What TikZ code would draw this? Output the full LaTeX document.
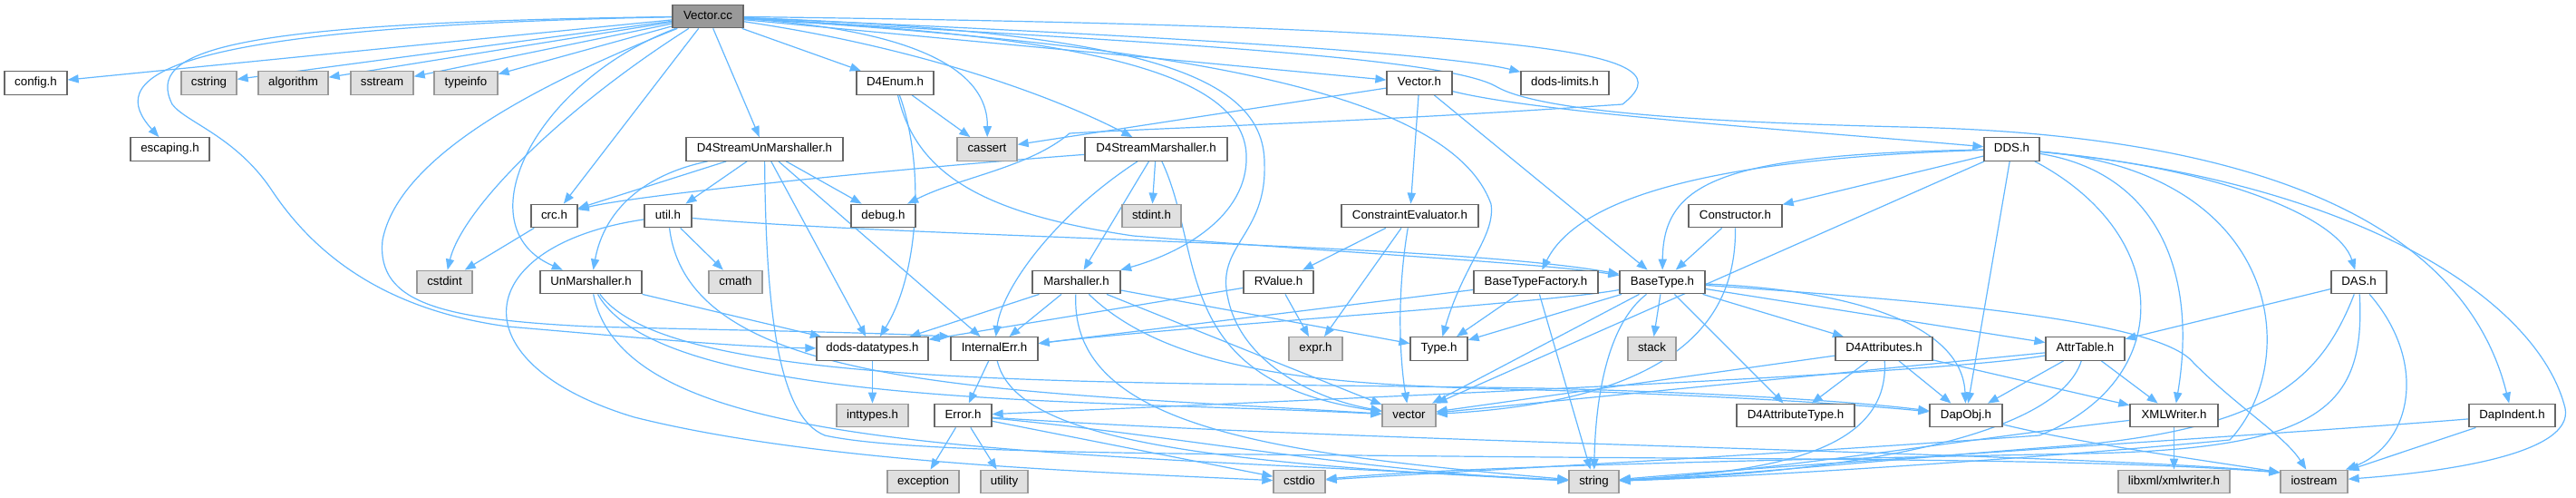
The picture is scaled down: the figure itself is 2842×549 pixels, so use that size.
\documentclass[tikz,border=0pt]{standalone}
\usepackage{fontspec}
\setmainfont{Liberation Sans}
\usepackage{tikz}
\usetikzlibrary{arrows.meta,backgrounds}
\definecolor{dxedge}{HTML}{63B8FF}
\definecolor{dxframe}{HTML}{666666}
\definecolor{dxsysframe}{HTML}{999999}
\definecolor{dxsysfill}{HTML}{E0E0E0}
\definecolor{dxcur}{HTML}{999999}

\begin{document}
\begin{tikzpicture}[x=0.5pt,y=-0.5pt,font=\fontsize{6.65}{8}\selectfont,
  hdr/.style={draw=dxframe,fill=white,line width=0.65pt,inner sep=0pt,minimum height=12.75pt,text height=4.9pt,text depth=1.4pt},
  sys/.style={hdr,draw=dxsysframe,fill=dxsysfill},
  cur/.style={hdr,fill=dxcur},
  inc/.style={draw=dxedge,line width=0.6pt,-{Triangle[length=6pt,width=4.6pt]}}]
\useasboundingbox (0,0) rectangle (2842,549);
\node[cur,minimum width=39pt] (vcc) at (781,18) {Vector.cc};
\node[hdr,minimum width=34.5pt] (config) at (39.5,91.5) {config.h};
\node[sys,minimum width=30.5pt] (cstring) at (230.5,91.5) {cstring};
\node[sys,minimum width=38.5pt] (algorithm) at (323.5,91.5) {algorithm};
\node[sys,minimum width=34.5pt] (sstream) at (421.5,91.5) {sstream};
\node[sys,minimum width=35pt] (typeinfo) at (514,91.5) {typeinfo};
\node[hdr,minimum width=42.5pt] (d4enum) at (987.5,91.5) {D4Enum.h};
\node[hdr,minimum width=36pt] (vectorh) at (1566,91.5) {Vector.h};
\node[hdr,minimum width=48.5pt] (limits) at (1726.5,91.5) {dods-limits.h};
\node[hdr,minimum width=43.5pt] (escaping) at (187.5,164.5) {escaping.h};
\node[hdr,minimum width=86.5pt] (d4sum) at (843.5,164.5) {D4StreamUnMarshaller.h};
\node[sys,minimum width=33pt] (cassert) at (1089,164.5) {cassert};
\node[hdr,minimum width=78.5pt] (d4sm) at (1275.5,164.5) {D4StreamMarshaller.h};
\node[hdr,minimum width=30.5pt] (dds) at (2219.5,164.5) {DDS.h};
\node[hdr,minimum width=25.5pt] (crc) at (611.5,238) {crc.h};
\node[hdr,minimum width=26pt] (util) at (737,238) {util.h};
\node[hdr,minimum width=35.5pt] (debug) at (974.5,238) {debug.h};
\node[sys,minimum width=32.5pt] (stdint) at (1270.5,238) {stdint.h};
\node[hdr,minimum width=75.5pt] (ceval) at (1555.5,238) {ConstraintEvaluator.h};
\node[hdr,minimum width=51.5pt] (constructor) at (1914.5,238) {Constructor.h};
\node[sys,minimum width=30.5pt] (cstdint) at (490.5,311) {cstdint};
\node[hdr,minimum width=56pt] (unmarsh) at (652,311) {UnMarshaller.h};
\node[sys,minimum width=29.5pt] (cmath) at (811.5,311) {cmath};
\node[hdr,minimum width=48.5pt] (marsh) at (1187.5,311) {Marshaller.h};
\node[hdr,minimum width=38.5pt] (rvalue) at (1410.5,311) {RValue.h};
\node[hdr,minimum width=68.5pt] (btfactory) at (1694.5,311) {BaseTypeFactory.h};
\node[hdr,minimum width=47pt] (basetype) at (1834,311) {BaseType.h};
\node[hdr,minimum width=30.5pt] (das) at (2602.5,311) {DAS.h};
\node[hdr,minimum width=61.5pt] (datatypes) at (962.5,384.5) {dods-datatypes.h};
\node[hdr,minimum width=48pt] (internalerr) at (1097,384.5) {InternalErr.h};
\node[sys,minimum width=29.5pt] (expr) at (1451.5,384.5) {expr.h};
\node[hdr,minimum width=31.5pt] (typeh) at (1587.5,384.5) {Type.h};
\node[sys,minimum width=26.5pt] (stack) at (1822.5,384.5) {stack};
\node[hdr,minimum width=53.5pt] (d4attrs) at (2078.5,384.5) {D4Attributes.h};
\node[hdr,minimum width=43.5pt] (attrtable) at (2300.5,384.5) {AttrTable.h};
\node[sys,minimum width=39.5pt] (inttypes) at (962.5,458) {inttypes.h};
\node[hdr,minimum width=31.5pt] (error) at (1062.5,458) {Error.h};
\node[sys,minimum width=29.5pt] (vec) at (1554.5,458) {vector};
\node[hdr,minimum width=65pt] (d4attrtype) at (1981,458) {D4AttributeType.h};
\node[hdr,minimum width=40pt] (dapobj) at (2169,458) {DapObj.h};
\node[hdr,minimum width=48.5pt] (xmlwriter) at (2398.5,458) {XMLWriter.h};
\node[hdr,minimum width=47.5pt] (dapindent) at (2771.5,458) {DapIndent.h};
\node[sys,minimum width=39.5pt] (exception) at (1018.5,531) {exception};
\node[sys,minimum width=26pt] (utility) at (1108,531) {utility};
\node[sys,minimum width=28.5pt] (cstdio) at (1433.5,531) {cstdio};
\node[sys,minimum width=27.5pt] (string) at (1758.5,531) {string};
\node[sys,minimum width=61.5pt] (libxml) at (2398.5,531) {libxml/xmlwriter.h};
\node[sys,minimum width=37pt] (iostream) at (2553,531) {iostream};
\begin{pgfonlayer}{background}
\fill[white] (0,0) rectangle (2842,549);
% Vector.cc
\draw[inc] (vcc) -- (config);
\draw[inc] (vcc) -- (cstring);
\draw[inc] (vcc) -- (algorithm);
\draw[inc] (vcc) -- (sstream);
\draw[inc] (vcc) -- (typeinfo);
\draw[inc] (vcc) -- (crc);
\draw[inc] (vcc) -- (d4sum);
\draw[inc] (vcc) -- (d4enum);
\draw[inc] (vcc) -- (vectorh);
\draw[inc] (vcc) .. controls (150,30) and (120,90) .. (escaping);
\draw[inc] (vcc) .. controls (250,25) and (160,55) .. (190,115) .. controls (205,135) and (260,150) .. (300,210)
  .. controls (360,300) and (450,345) .. (560,360) .. controls (700,372) and (820,383) .. (datatypes);
\draw[inc] (vcc) .. controls (600,90) and (440,170) .. (422,265) .. controls (415,335) and (490,352) .. (650,360)
  .. controls (800,364) and (950,366) .. (internalerr.north west);
\draw[inc] (vcc) .. controls (620,120) and (510,230) .. (cstdint);
\draw[inc] (vcc) .. controls (590,90) and (510,250) .. (unmarsh);
\draw[inc] (vcc) .. controls (1040,35) and (1090,90) .. (cassert);
\draw[inc] (vcc) .. controls (1000,50) and (1150,100) .. (d4sm);
\draw[inc] (vcc) .. controls (1200,40) and (1370,80) .. (1375,170) .. controls (1378,240) and (1300,280) .. (marsh);
\draw[inc] (vcc) .. controls (1250,35) and (1395,80) .. (1395,180) .. controls (1398,260) and (1340,270) .. (1355,330)
  .. controls (1370,400) and (1450,440) .. (vec);
\draw[inc] (vcc) .. controls (1300,50) and (1600,100) .. (1645,225) .. controls (1650,260) and (1615,290) .. (typeh);
\draw[inc] (vcc) .. controls (1300,40) and (1600,60) .. (limits);
\draw[inc] (vcc) .. controls (1750,30) and (1860,60) .. (1790,115) .. controls (1500,135) and (1300,140) .. (1180,147)
  .. controls (1135,185) and (1060,195) .. (debug);
\draw[inc] (vcc) .. controls (1250,45) and (1590,62) .. (1650,95) .. controls (1700,125) and (1900,135) .. (2100,140)
  .. controls (2500,148) and (2720,250) .. (dapindent);
% second row
\draw[inc] (vectorh) -- (cassert);
\draw[inc] (vectorh) -- (ceval);
\draw[inc] (vectorh) -- (basetype);
\draw[inc] (vectorh) .. controls (1700,125) and (2000,145) .. (dds);
\draw[inc] (d4enum) -- (cassert);
\draw[inc] (d4enum) .. controls (1020,180) and (1015,300) .. (datatypes);
\draw[inc] (d4enum) .. controls (1010,190) and (1080,235) .. (1250,260) .. controls (1500,280) and (1700,290) .. (basetype);
\draw[inc] (d4sum) -- (crc);
\draw[inc] (d4sum) -- (util);
\draw[inc] (d4sum) -- (debug);
\draw[inc] (d4sum) -- (datatypes);
\draw[inc] (d4sum) -- (internalerr);
\draw[inc] (d4sum) .. controls (700,195) and (665,240) .. (unmarsh);
\draw[inc] (d4sum) .. controls (845,350) and (860,460) .. (910,480) .. controls (1000,500) and (1300,500) .. (1600,503)
  .. controls (2000,507) and (2300,505) .. (iostream.165);
\draw[inc] (d4sm) .. controls (1000,185) and (700,215) .. (crc);
\draw[inc] (d4sm) -- (stdint);
\draw[inc] (d4sm) -- (marsh);
\draw[inc] (d4sm) .. controls (1160,240) and (1105,320) .. (internalerr);
\draw[inc] (d4sm) .. controls (1330,280) and (1290,420) .. (vec);
\draw[inc] (dds) -- (constructor);
\draw[inc] (dds) -- (vec);
\draw[inc] (dds) -- (dapobj);
\draw[inc] (dds) .. controls (1900,170) and (1835,200) .. (basetype);
\draw[inc] (dds) .. controls (1880,175) and (1740,220) .. (btfactory);
\draw[inc] (dds) .. controls (2380,190) and (2425,300) .. (xmlwriter);
\draw[inc] (dds) .. controls (2520,190) and (2540,400) .. (2460,485) .. controls (2250,505) and (1950,525) .. (string);
\draw[inc] (dds) .. controls (2450,185) and (2580,240) .. (das);
\draw[inc] (dds) .. controls (2600,200) and (2800,330) .. (2830,450) .. controls (2840,500) and (2700,520) .. (iostream);
\draw[inc] (dds) .. controls (2400,260) and (2400,420) .. (2250,480) .. controls (1900,505) and (1600,520) .. (cstdio);
% third row
\draw[inc] (crc) -- (cstdint);
\draw[inc] (util) -- (cmath);
\draw[inc] (util) .. controls (1000,262) and (1600,268) .. (basetype);
\draw[inc] (util) .. controls (760,430) and (1100,430) .. (vec);
\draw[inc] (util) .. controls (520,270) and (500,400) .. (700,460) .. controls (900,510) and (1200,520) .. (cstdio);
\draw[inc] (ceval) -- (rvalue);
\draw[inc] (ceval) -- (expr);
\draw[inc] (ceval) .. controls (1540,330) and (1545,400) .. (vec);
\draw[inc] (constructor) -- (basetype);
\draw[inc] (constructor) .. controls (1915,330) and (1880,440) .. (vec);
% fourth row
\draw[inc] (unmarsh) -- (datatypes);
\draw[inc] (unmarsh) .. controls (740,430) and (1200,420) .. (1700,428) .. controls (1900,433) and (2050,443) .. (dapobj);
\draw[inc] (unmarsh) .. controls (730,450) and (1200,440) .. (vec);
\draw[inc] (unmarsh) .. controls (690,500) and (1100,495) .. (string);
\draw[inc] (marsh) -- (datatypes);
\draw[inc] (marsh) -- (internalerr);
\draw[inc] (marsh) -- (typeh);
\draw[inc] (marsh) -- (vec);
\draw[inc] (marsh) .. controls (1300,420) and (1500,425) .. (1700,430) .. controls (1900,436) and (2050,446) .. (dapobj);
\draw[inc] (marsh) .. controls (1180,470) and (1400,500) .. (string);
\draw[inc] (rvalue) -- (expr);
\draw[inc] (rvalue) -- (datatypes);
\draw[inc] (btfactory) -- (typeh);
\draw[inc] (btfactory) -- (string);
\draw[inc] (btfactory) -- (internalerr);
\draw[inc] (basetype) -- (typeh);
\draw[inc] (basetype) -- (stack);
\draw[inc] (basetype) -- (vec);
\draw[inc] (basetype) -- (d4attrtype);
\draw[inc] (basetype) -- (d4attrs);
\draw[inc] (basetype) -- (attrtable);
\draw[inc] (basetype) .. controls (1770,360) and (1760,450) .. (string);
\draw[inc] (basetype) .. controls (2050,320) and (2165,360) .. (dapobj);
\draw[inc] (basetype) .. controls (2100,330) and (2380,350) .. (2420,400) .. controls (2470,450) and (2520,480) .. (iostream);
\draw[inc] (basetype) .. controls (1700,335) and (1300,360) .. (internalerr);
\draw[inc] (das) -- (attrtable);
\draw[inc] (das) .. controls (2560,420) and (2500,470) .. (2300,490) .. controls (2100,505) and (1900,525) .. (string);
\draw[inc] (das) .. controls (2610,450) and (2560,495) .. (2300,500) .. controls (1900,508) and (1600,515) .. (cstdio);
\draw[inc] (das) .. controls (2680,400) and (2660,490) .. (iostream);
% lower rows
\draw[inc] (datatypes) -- (inttypes);
\draw[inc] (internalerr) -- (error);
\draw[inc] (internalerr) .. controls (1120,480) and (1300,510) .. (string);
\draw[inc] (error) -- (exception);
\draw[inc] (error) -- (utility);
\draw[inc] (error) -- (cstdio);
\draw[inc] (error) .. controls (1300,480) and (1500,520) .. (string);
\draw[inc] (error) .. controls (1500,488) and (2300,500) .. (iostream.165);
\draw[inc] (d4attrs) -- (d4attrtype);
\draw[inc] (d4attrs) -- (dapobj);
\draw[inc] (d4attrs) -- (xmlwriter);
\draw[inc] (d4attrs) -- (vec);
\draw[inc] (d4attrs) .. controls (2085,500) and (1950,520) .. (string);
\draw[inc] (attrtable) -- (dapobj);
\draw[inc] (attrtable) -- (xmlwriter);
\draw[inc] (attrtable) -- (vec);
\draw[inc] (attrtable) .. controls (2150,410) and (1700,430) .. (error);
\draw[inc] (attrtable) .. controls (2270,480) and (2050,520) .. (string);
\draw[inc] (xmlwriter) -- (libxml);
\draw[inc] (xmlwriter) .. controls (2200,480) and (1950,520) .. (string);
\draw[inc] (dapobj) .. controls (2300,490) and (2450,510) .. (iostream.165);
\draw[inc] (dapindent) -- (iostream);
\draw[inc] (dapindent) .. controls (2500,480) and (2000,510) .. (string);
\end{pgfonlayer}
\end{tikzpicture}
\end{document}
